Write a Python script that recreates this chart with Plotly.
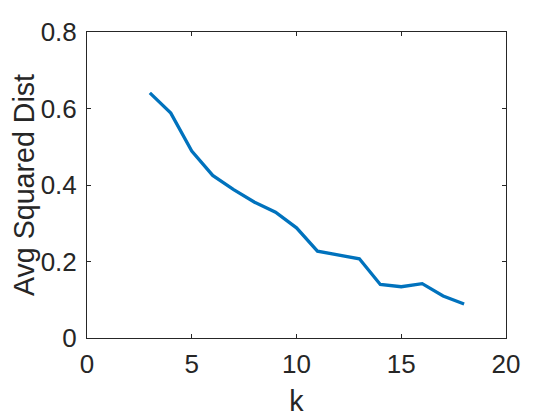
import plotly.graph_objects as go

# k vs. average squared distance
k = [3, 4, 5, 6, 7, 8, 9, 10, 11, 12, 13, 14, 15, 16, 17, 18]
avg_sq_dist = [0.641, 0.588, 0.489, 0.425, 0.388, 0.355, 0.329, 0.288,
               0.227, 0.217, 0.207, 0.140, 0.134, 0.142, 0.110, 0.089]

x_ticks = [0, 5, 10, 15, 20]
y_ticks = [0, 0.2, 0.4, 0.6, 0.8]
y_labels = ["0", "0.2", "0.4", "0.6", "0.8"]

font = dict(family="Liberation Sans, Arial", size=26, color="#262626")
title_font = dict(family="Liberation Sans, Arial", size=28.6, color="#262626")

fig = go.Figure()
fig.add_trace(go.Scatter(
    x=k, y=avg_sq_dist, mode="lines",
    line=dict(color="#0072BD", width=3.3),
))

axis_style = dict(
    showgrid=False, zeroline=False, automargin=False,
    showline=True, linecolor="#262626", linewidth=1, mirror="ticks",
    ticks="inside", ticklen=4, tickcolor="#262626", tickwidth=1,
    tickfont=font,
)

fig.update_xaxes(
    range=[0, 20], tickvals=x_ticks, ticklabelstandoff=3,
    title=dict(text="k", font=title_font, standoff=12),
    **axis_style,
)
fig.update_yaxes(
    range=[0, 0.8], tickvals=y_ticks, ticktext=y_labels, ticklabelstandoff=4,
    title=dict(text="Avg Squared Dist", font=title_font, standoff=3),
    **axis_style,
)

# page body adds an 8px offset, so margins are shifted to compensate
fig.update_layout(
    width=560, height=420,
    margin=dict(l=79, r=62, t=24, b=90),
    plot_bgcolor="white", paper_bgcolor="white",
    showlegend=False,
)

fig.write_html("out.html")
